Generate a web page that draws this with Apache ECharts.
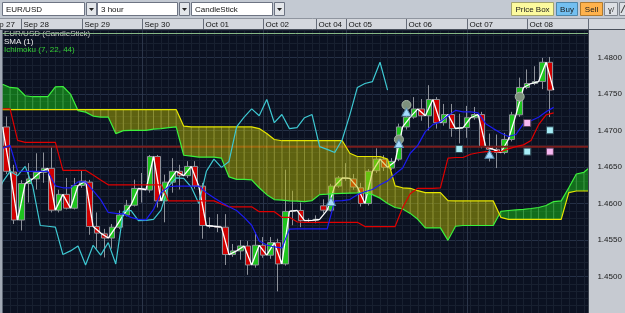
<!DOCTYPE html>
<html><head><meta charset="utf-8">
<script src="https://cdn.jsdelivr.net/npm/echarts@6/dist/echarts.min.js"></script>
<style>html,body{margin:0;padding:0;background:#0b1121;}#c{width:625px;height:313px;}</style>
</head><body><div id="c"></div>
<script>
// ---------- data ----------
const openP = [1.47050,1.46432,1.45774,1.46274,1.46338,1.46428,1.46482,1.45909,1.46126,1.45936,
 1.46247,1.46293,1.45685,1.45585,1.45527,1.45676,1.45842,1.45977,1.46207,1.46185,
 1.46645,1.46036,1.46293,1.46442,1.46382,1.46509,1.46239,1.45699,1.45689,1.45676,
 1.45301,1.45351,1.45419,1.45158,1.45428,1.45293,1.45464,1.45172,1.45892,1.45905,
 1.45766,1.45770,1.45969,1.45909,1.46239,1.46351,1.46338,1.46216,1.46000,1.46450,
 1.46608,1.46486,1.46608,1.47050,1.47185,1.47297,1.47203,1.47426,1.47108,1.47220,
 1.47027,1.47041,1.47176,1.47220,1.46780,1.46743,1.46699,1.46878,1.47216,1.47591,
 1.47645,1.47672,1.47936];
const closeP = [1.46442,1.45774,1.46274,1.46338,1.46428,1.46482,1.45909,1.46126,1.45936,1.46247,
 1.46307,1.45685,1.45595,1.45527,1.45676,1.45842,1.45977,1.46207,1.46189,1.46645,
 1.46036,1.46293,1.46442,1.46382,1.46509,1.46239,1.45699,1.45689,1.45676,1.45301,
 1.45351,1.45419,1.45158,1.45428,1.45293,1.45464,1.45172,1.45892,1.45905,1.45766,
 1.45770,1.45784,1.45909,1.46239,1.46351,1.46345,1.46226,1.46000,1.46442,1.46608,
 1.46496,1.46577,1.47050,1.47185,1.47297,1.47203,1.47426,1.47108,1.47220,1.47027,
 1.47041,1.47176,1.47220,1.46780,1.46743,1.46699,1.46878,1.47216,1.47591,1.47645,
 1.47672,1.47936,1.47554];
const highP = [1.47193,1.46531,1.46320,1.46554,1.46689,1.46699,1.46780,1.46189,1.46351,1.46351,
 1.46455,1.46324,1.45878,1.45653,1.45720,1.45905,1.46050,1.46328,1.46419,1.46666,
 1.46666,1.46396,1.46622,1.46531,1.46581,1.46581,1.46284,1.45811,1.45855,1.45855,
 1.45446,1.45500,1.45486,1.45608,1.45541,1.45541,1.45518,1.46464,1.46176,1.46014,
 1.45797,1.45838,1.46058,1.46270,1.46378,1.46554,1.46405,1.46284,1.46473,1.46757,
 1.46662,1.46622,1.47095,1.47324,1.47459,1.47432,1.47622,1.47459,1.47365,1.47365,
 1.47230,1.47338,1.47324,1.47257,1.46959,1.46946,1.46969,1.47257,1.47726,1.47838,
 1.47882,1.47996,1.48009];
const lowP = [1.46405,1.45720,1.45631,1.46014,1.46193,1.46284,1.45878,1.45878,1.45919,1.45919,
 1.46216,1.45572,1.45382,1.45261,1.45382,1.45649,1.45824,1.45959,1.46014,1.46149,
 1.45946,1.45743,1.46149,1.46193,1.46351,1.46203,1.45518,1.45662,1.45608,1.45158,
 1.45270,1.45230,1.45023,1.45122,1.45257,1.45243,1.44797,1.45149,1.45703,1.45676,
 1.45743,1.45730,1.45865,1.45892,1.46216,1.46311,1.46189,1.45959,1.45973,1.46419,
 1.46446,1.46459,1.46581,1.47014,1.47162,1.47135,1.47004,1.47027,1.47068,1.46915,
 1.46824,1.46901,1.47149,1.46757,1.46577,1.46486,1.46676,1.46851,1.47189,1.47568,
 1.47622,1.47568,1.47185];
// Ichimoku values, one per bar boundary (value at the close of bar i-1)
const spanA = [1.47635,1.47591,1.47581,1.47477,1.47464,1.47464,1.47464,1.47599,1.47604,1.47500,
 1.47274,1.47253,1.47199,1.47185,1.47185,1.46959,1.47000,1.47004,1.47004,1.47004,
 1.47020,1.47027,1.47041,1.47050,1.46662,1.46649,1.46635,1.46635,1.46635,1.46622,
 1.46365,1.46331,1.46331,1.46324,1.46216,1.46122,1.46054,1.46047,1.46036,1.46034,
 1.46027,1.46041,1.46122,1.46128,1.46135,1.46139,1.46142,1.46145,1.46149,1.46122,
 1.46074,1.46000,1.45946,1.45926,1.45865,1.45784,1.45666,1.45666,1.45666,1.45496,
 1.45689,1.45699,1.45699,1.45699,1.45699,1.45699,1.45892,1.45905,1.45912,1.45919,
 1.45932,1.45946,1.45973,1.46027,1.46036,1.46216,1.46405,1.46428,1.46514];
const spanB = [1.47288,1.47288,1.47288,1.47288,1.47288,1.47288,1.47288,1.47288,1.47288,1.47288,
 1.47288,1.47288,1.47288,1.47288,1.47288,1.47288,1.47288,1.47288,1.47288,1.47288,
 1.47288,1.47288,1.47288,1.47288,1.47061,1.47050,1.47050,1.47050,1.47050,1.47050,
 1.47050,1.47050,1.47050,1.47050,1.47027,1.46959,1.46878,1.46861,1.46861,1.46861,
 1.46861,1.46861,1.46861,1.46861,1.46861,1.46861,1.46689,1.46645,1.46645,1.46645,
 1.46645,1.46608,1.46243,1.46216,1.46209,1.46176,1.46149,1.46149,1.46149,1.46041,
 1.46036,1.46036,1.46036,1.46036,1.46036,1.46036,1.45811,1.45784,1.45784,1.45784,
 1.45784,1.45784,1.45784,1.45784,1.45784,1.46149,1.46172,1.46172,1.46172];
const kijun = [1.47297,1.47297,1.46865,1.46838,1.46838,1.46838,1.46838,1.46838,1.46455,1.46455,
 1.46455,1.46455,1.46392,1.46324,1.46257,1.46257,1.46257,1.46257,1.46257,1.46257,
 1.46257,1.46257,1.46036,1.46036,1.46036,1.46036,1.46036,1.46036,1.46036,1.45993,
 1.45955,1.45955,1.45955,1.45955,1.45888,1.45888,1.45888,1.45811,1.45811,1.45750,
 1.45743,1.45743,1.45743,1.45743,1.45743,1.45743,1.45743,1.45743,1.45685,1.45685,
 1.45685,1.45685,1.45685,1.45946,1.46135,1.46209,1.46209,1.46209,1.46216,1.46622,
 1.46631,1.46631,1.46676,1.46696,1.46712,1.46712,1.46712,1.46750,1.46780,1.46804,
 1.46865,1.47081,1.47216,1.47243];
const tenkan = [1.46757,1.46797,1.46446,1.46442,1.46442,1.46442,1.46442,1.46243,1.46216,1.46216,
 1.46297,1.46297,1.46176,1.46054,1.45878,1.45865,1.45858,1.45811,1.45784,1.45777,
 1.45919,1.46149,1.46230,1.46239,1.46239,1.46239,1.46239,1.46149,1.46081,1.46014,
 1.45955,1.45905,1.45811,1.45703,1.45486,1.45432,1.45405,1.45392,1.45649,1.45653,
 1.45653,1.45653,1.45653,1.45653,1.46036,1.46041,1.46054,1.46122,1.46162,1.46193,
 1.46257,1.46311,1.46405,1.46486,1.46689,1.46797,1.46986,1.47081,1.47122,1.47203,
 1.47277,1.47257,1.47257,1.47243,1.47095,1.47027,1.46966,1.46919,1.46946,1.47095,
 1.47135,1.47182,1.47257,1.47318];
const chikouShift = 22;
const levelLine = 1.46777;
const circleMarks = [[52, 1.46878], [53, 1.47351], [68, 1.47464]];
const triangleMarks = [[43, 1.46027], [52, 1.46824], [53, 1.47253], [64, 1.46676]];
const cyanMarks = [[60, 1.46747], [69, 1.46712], [72, 1.47004]];
const pinkMarks = [[69, 1.47104], [72, 1.46712]];
const dayStarts = [-2.5, 2, 10, 18, 26, 34, 41, 45, 53, 61, 69, 77];
const dayLabels = ['Sep 27','Sep 28','Sep 29','Sep 30','Oct 01','Oct 02','Oct 04','Oct 05','Oct 06','Oct 07','Oct 08',''];
const majorDays = [18, 34, 45, 61];
const priceTicks = [1.4500, 1.4550, 1.4600, 1.4650, 1.4700, 1.4750, 1.4800];
const legendTexts = ['EUR/USD (CandleStick)', 'SMA (1)', 'Ichimoku (7, 22, 44)'];

// ---------- chart ----------
const FONT = '"Liberation Sans", Arial, sans-serif';
const Y_MIN = 1.445, Y_MAX = 1.483784;
const X_MIN = -0.5, X_MAX = 77.5;
const indX = i => i - 0.5;

const FILL_G = 'rgba(25,185,25,0.55)', FILL_Y = 'rgba(190,190,0,0.47)';
const STRIPE_G = 'rgba(130,240,130,0.35)', STRIPE_Y = 'rgba(240,240,110,0.33)';

function cloudRender(params, api) {
  const i = params.dataIndex;
  const x0 = indX(i);
  const a0v = spanA[i], b0v = spanB[i];
  const A0 = api.coord([x0, a0v]), B0 = api.coord([x0, b0v]);
  const children = [];
  const poly = (pts, up) => ({type: 'polygon', shape: {points: pts}, style: {fill: up ? FILL_G : FILL_Y}});
  if (i < spanA.length - 1) {
    const x1 = indX(i + 1);
    const a1v = spanA[i + 1], b1v = spanB[i + 1];
    const A1 = api.coord([x1, a1v]), B1 = api.coord([x1, b1v]);
    const d0 = a0v - b0v, d1 = a1v - b1v;
    if (d0 === 0 || d1 === 0 || (d0 > 0) === (d1 > 0)) {
      children.push(poly([A0, A1, B1, B0], (d0 !== 0 ? d0 : d1) > 0));
    } else {
      const t = d0 / (d0 - d1);
      const X = [A0[0] + (A1[0] - A0[0]) * t, A0[1] + (A1[1] - A0[1]) * t];
      children.push(poly([A0, X, B0], d0 > 0));
      children.push(poly([X, A1, B1], d1 > 0));
    }
  }
  children.push({type: 'line', shape: {x1: A0[0], y1: A0[1], x2: B0[0], y2: B0[1]},
    style: {stroke: a0v >= b0v ? STRIPE_G : STRIPE_Y, lineWidth: 1}});
  return {type: 'group', children};
}

function lineSeries(name, pts, color, z, width) {
  return {type: 'line', name, data: pts, showSymbol: false, z, silent: true,
    lineStyle: {color, width: width || 1.2}, clip: true};
}

const candleData = openP.map((o, k) => [k, o, closeP[k], lowP[k], highP[k]]);
const smaPts = [[-0.5, openP[0]]].concat(closeP.map((c, k) => [k + 0.5, c]));
const chikouPts = closeP.map((c, k) => [k + 0.5 - chikouShift, c]);

const g = [];
// toolbar
g.push({type: 'rect', z: 50, shape: {x: 0, y: 0, width: 625, height: 19}, style: {fill: '#c3c9d2'}});
function dropdown(x, w, label) {
  g.push({type: 'rect', z: 51, shape: {x: x + 0.5, y: 2.5, width: w, height: 13}, style: {fill: '#ffffff', stroke: '#6d7483', lineWidth: 1}});
  g.push({type: 'text', z: 52, style: {text: label, x: x + 4, y: 9.5, verticalAlign: 'middle', fill: '#111', font: '8px ' + FONT}});
  const bx = x + w + 2;
  g.push({type: 'rect', z: 51, shape: {x: bx + 0.5, y: 2.5, width: 10, height: 13}, style: {fill: '#e3e6ea', stroke: '#6d7483', lineWidth: 1}});
  g.push({type: 'polygon', z: 52, shape: {points: [[bx + 3, 8], [bx + 8, 8], [bx + 5.5, 11]]}, style: {fill: '#222'}});
}
dropdown(2, 82, 'EUR/USD');
dropdown(97, 80, '3 hour');
dropdown(191, 81, 'CandleStick');
function button(x, w, label, fill, stroke) {
  g.push({type: 'rect', z: 51, shape: {x: x + 0.5, y: 2.5, width: w, height: 13}, style: {fill, stroke, lineWidth: 1}});
  g.push({type: 'text', z: 52, style: {text: label, x: x + w / 2 + 0.5, y: 9.5, align: 'center', verticalAlign: 'middle', fill: '#1a1a1a', font: '8px ' + FONT}});
}
button(511, 42, 'Price Box', '#fcfa9e', '#a5a56c');
button(556, 21, 'Buy', '#73bff0', '#4d86aa');
button(580, 22, 'Sell', '#ffb24c', '#b07a2e');
g.push({type: 'rect', z: 51, shape: {x: 604.5, y: 2.5, width: 13, height: 13}, style: {fill: '#dde0e5', stroke: '#80868f', lineWidth: 1}});
g.push({type: 'text', z: 52, style: {text: 'ɣ/', x: 611, y: 9.5, align: 'center', verticalAlign: 'middle', fill: '#333', font: '8px ' + FONT}});
g.push({type: 'rect', z: 51, shape: {x: 619.5, y: 2.5, width: 12, height: 13}, style: {fill: '#dde0e5', stroke: '#80868f', lineWidth: 1}});
g.push({type: 'line', z: 52, shape: {x1: 621, y1: 13, x2: 625, y2: 5}, style: {stroke: '#333', lineWidth: 1}});
// date strip background
g.push({type: 'rect', z: 50, shape: {x: 0, y: 19, width: 625, height: 11}, style: {fill: '#d4d7dd'}});
g.push({type: 'line', z: 51, shape: {x1: 0, y1: 18.5, x2: 625, y2: 18.5}, style: {stroke: '#8f959f', lineWidth: 1}});
g.push({type: 'line', z: 51, shape: {x1: 0, y1: 29.5, x2: 625, y2: 29.5}, style: {stroke: '#4a505b', lineWidth: 1}});
// frames
g.push({type: 'rect', z: 50, shape: {x: 0, y: 30, width: 2.5, height: 283}, style: {fill: '#a2a9b5'}});
g.push({type: 'rect', z: 50, shape: {x: 589, y: 30, width: 36, height: 283}, style: {fill: '#c6cad1'}});
g.push({type: 'line', z: 51, shape: {x1: 588.5, y1: 30, x2: 588.5, y2: 313}, style: {stroke: '#3b414d', lineWidth: 1}});
// legend
const legendColors = ['#c4c4c4', '#eeeeee', '#35cf35'];
legendTexts.forEach((t, i) => {
  g.push({type: 'text', z: 55, style: {text: t, x: 4, y: 33.5 + 8 * i, verticalAlign: 'middle', fill: legendColors[i], font: '8px ' + FONT}});
});
g.push({type: 'line', z: 56, shape: {x1: 2.5, y1: 33.5, x2: 588, y2: 33.5}, style: {stroke: '#86b886', lineWidth: 1}});

const option = {
  backgroundColor: '#0b1121',
  animation: false,
  grid: {left: 2.525, right: 33.575, top: 30, bottom: -4, containLabel: false},
  xAxis: {type: 'value', min: X_MIN, max: X_MAX, interval: 1,
    axisLine: {show: false}, axisTick: {show: false}, axisLabel: {show: false},
    splitLine: {show: true, lineStyle: {color: '#182030', width: 1}}},
  yAxis: [
    {type: 'value', min: Y_MIN, max: Y_MAX, interval: 0.001, position: 'left',
      axisLine: {show: false}, axisTick: {show: false}, axisLabel: {show: false},
      splitLine: {show: true, lineStyle: {color: ['#253046', '#182030', '#182030', '#182030', '#182030'], width: 1}}},
    {type: 'value', min: Y_MIN, max: Y_MAX, interval: 0.005, position: 'right', z: 70,
      axisLine: {show: false}, axisTick: {show: false}, splitLine: {show: false},
      axisLabel: {show: true, margin: 6, color: '#1a1a1a', fontSize: 8, fontFamily: FONT,
        formatter: v => priceTicks.some(t => Math.abs(t - v) < 1e-7) ? v.toFixed(4) : ''}}
  ],
  graphic: {elements: g},
  series: [
    {type: 'custom', name: 'days', z: 1, silent: true, clip: true,
      data: majorDays.map(d => [d, 1.46]), encode: {x: 0, y: 1},
      renderItem: (params, api) => {
        const x = Math.round(api.coord([api.value(0), Y_MAX])[0]) + 0.5;
        const y1 = api.coord([0, Y_MAX])[1], y2 = api.coord([0, Y_MIN])[1];
        return {type: 'line', shape: {x1: x, y1, x2: x, y2}, style: {stroke: '#2b3549', lineWidth: 1}};
      }},
    {type: 'candlestick', name: 'EUR/USD', z: 2, barWidth: 6, silent: true,
      data: candleData, encode: {x: 0, y: [1, 2, 3, 4]},
      itemStyle: {color: '#1ec41e', color0: '#d10000', borderColor: '#8d9199', borderColor0: '#8d9199', borderWidth: 1}},
    lineSeries('SMA (1)', smaPts, '#ffffff', 3, 1.3),
    lineSeries('level', [[X_MIN, levelLine], [X_MAX, levelLine]], '#7a1c1c', 3, 2),
    {type: 'custom', name: 'cloud', z: 4, silent: true, clip: true,
      data: spanA.map((a, i) => [indX(i), a, spanB[i]]), encode: {x: 0, y: [1, 2]},
      renderItem: cloudRender},
    lineSeries('Senkou A', spanA.map((v, i) => [indX(i), v]), '#3cf03c', 5, 1.2),
    lineSeries('Senkou B', spanB.map((v, i) => [indX(i), v]), '#e6e600', 5, 1.2),
    lineSeries('Chikou', chikouPts, '#3ec8d2', 5, 1.2),
    lineSeries('Kijun', kijun.map((v, i) => [indX(i), v]), '#e00000', 5, 1.2),
    lineSeries('Tenkan', tenkan.map((v, i) => [indX(i), v]), '#1c1cf2', 5, 1.2),
    {type: 'scatter', z: 6, silent: true, symbol: 'circle', symbolSize: 9, data: circleMarks,
      itemStyle: {color: '#7d917d', borderColor: '#a9b9a9', borderWidth: 1, opacity: 1}},
    {type: 'scatter', z: 6, silent: true, symbol: 'triangle', symbolSize: [9, 8], data: triangleMarks,
      itemStyle: {color: '#a6dcff', borderColor: '#5c8fb0', borderWidth: 1, opacity: 1}},
    {type: 'scatter', z: 6, silent: true, symbol: 'rect', symbolSize: 7, data: cyanMarks,
      itemStyle: {color: '#a6ecf6', borderColor: '#2e4c58', borderWidth: 1, opacity: 1}},
    {type: 'scatter', z: 6, silent: true, symbol: 'rect', symbolSize: 7, data: pinkMarks,
      itemStyle: {color: '#f6b8f2', borderColor: '#5e405e', borderWidth: 1, opacity: 1}},
    {type: 'custom', name: 'dates', z: 60, silent: true, clip: false,
      data: dayStarts.map(d => [d, 1.46]), encode: {x: 0, y: 1},
      renderItem: (params, api) => {
        const x = Math.round(api.coord([api.value(0), 1.46])[0]) + 0.5;
        return {type: 'group', children: [
          {type: 'line', shape: {x1: x, y1: 19, x2: x, y2: 29}, style: {stroke: '#666c78', lineWidth: 1}},
          {type: 'text', style: {text: dayLabels[params.dataIndex], x: x + 2, y: 24.5, verticalAlign: 'middle', fill: '#151515', font: '8px ' + FONT}}
        ]};
      }}
  ]
};
const chart = echarts.init(document.getElementById('c'), null, {width: 625, height: 313});
chart.setOption(option);
</script>
</body></html>
